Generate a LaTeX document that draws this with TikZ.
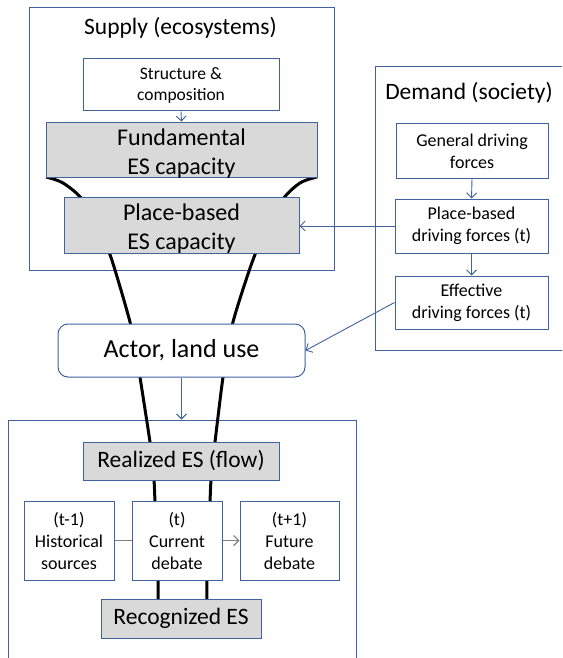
\documentclass[tikz,border=0pt]{standalone}
\usepackage{fontspec}
\setmainfont{Carlito}
\usetikzlibrary{arrows.meta}
\definecolor{bl}{HTML}{41629E}
\definecolor{gf}{HTML}{D9D9D9}
\definecolor{gl}{HTML}{7F7F7F}
\begin{document}
\begin{tikzpicture}[x=1pt,y=-1pt,
  box/.style={draw=bl,line width=1pt,inner sep=0pt,align=center,fill=white,
    font=\fontsize{18}{22}\selectfont},
  gbox/.style={box,fill=gf,font=\fontsize{24}{29}\selectfont},
  frame/.style={draw=bl,line width=1pt,inner sep=0pt},
  title/.style={inner sep=0pt,font=\fontsize{23.5}{28}\selectfont},
  arr/.style={draw=bl,line width=0.9pt,-{Straight Barb[length=5pt,width=10pt,line width=0.9pt]}},
  garr/.style={draw=gl,line width=1.2pt},
  funnel/.style={line width=3pt}]
\useasboundingbox (0,0) rectangle (562,658);
\fill[white] (0,0) rectangle (562,658);
\clip (0,0) rectangle (562,658);
% frames
\node[frame,minimum width=305pt,minimum height=262pt] (supply) at (181.5,139) {};
\node[frame,minimum width=200pt,minimum height=283pt] (demand) at (475,208.5) {};
\node[frame,minimum width=348pt,minimum height=260pt] (bottom) at (182,550) {};
\node[title] (supt) at (180.5,28) {Supply (ecosystems)};
\node[title] (demt) at (469,93) {Demand (society)};
% funnel
\draw[funnel] plot[smooth,tension=0.55] coordinates {(46,177) (63,183) (82,199) (97,225) (109,252) (118,280) (130,322) (136,350) (140,377) (150,442) (152,461) (154,480) (155,501) (157,540) (158,580) (158,605)};
\draw[funnel] plot[smooth,tension=0.55] coordinates {(317,177) (300,183) (283,199) (268,225) (256,252) (246,280) (233,322) (228,350) (223,377) (215,442) (213,461) (211,480) (210,501) (208,540) (207,580) (207,605)};
% supply boxes
\node[box,font=\fontsize{17.5}{21}\selectfont,minimum width=196pt,minimum height=52pt] (struct) at (181,85) {Structure \&\\composition};
\node[gbox,minimum width=271pt,minimum height=52pt] (fund) at (181.5,150) {\rule{0pt}{23pt}Fundamental\\ES capacity};
\node[gbox,minimum width=235pt,minimum height=51pt] (pbes) at (181.5,225.5) {\rule{0pt}{23pt}Place-based\\ES capacity};
% demand boxes
\node[box,minimum width=152pt,minimum height=54pt] (gen) at (472,151) {General driving\\forces};
\node[box,minimum width=153pt,minimum height=54pt] (pbdf) at (471.5,226) {Place-based\\driving forces (t)};
\node[box,minimum width=153pt,minimum height=53pt] (eff) at (471.5,302.5) {Effective\\driving forces (t)};
% actor
\node[box,rounded corners=10pt,font=\fontsize{26}{31}\selectfont,minimum width=247pt,minimum height=53pt] (actor) at (181.5,350.5) {Actor, land use};
% bottom boxes
\node[gbox,font=\fontsize{23.5}{28}\selectfont,minimum width=196pt,minimum height=38pt] (real) at (181,461) {Realized ES (flow)};
\node[box,minimum width=90pt,minimum height=79pt] (hist) at (69,540.5) {(t-1)\\Historical\\sources};
\node[box,minimum width=90pt,minimum height=79pt] (cur) at (177,540.5) {(t)\\Current\\debate};
\node[box,minimum width=99pt,minimum height=79pt] (fut) at (289.5,540.5) {(t+1)\\Future\\debate};
\node[gbox,font=\fontsize{23.5}{28}\selectfont,minimum width=160pt,minimum height=39pt] (recog) at (181,618.5) {Recognized ES};
% connectors
\draw[arr] (struct.south) -- (fund.north);
\draw[arr] (gen.south) -- (pbdf.north);
\draw[arr] (pbdf.south) -- (eff.north);
\draw[arr] (pbdf.west) -- (pbdf.west -| pbes.east);
\draw[arr] (eff.west) -- (actor.east);
\draw[arr] (actor.south) -- (actor.south |- bottom.north);
\draw[garr] (hist.east) -- (cur.west);
\draw[garr,-{Straight Barb[length=5pt,width=10pt,line width=1.2pt]}] (cur.east) -- (fut.west);
\end{tikzpicture}
\end{document}
